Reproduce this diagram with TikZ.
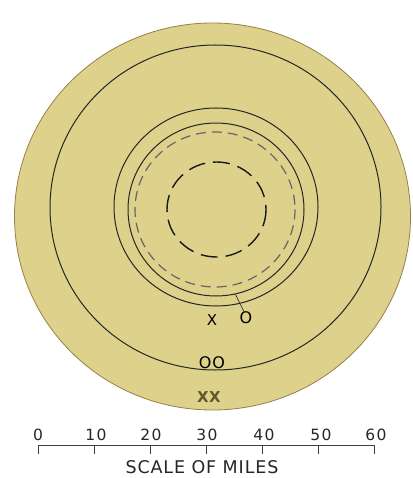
\documentclass[tikz,border=0pt]{standalone}
\usepackage{fontspec}
\setmainfont{DejaVu Sans}
\definecolor{disc}{RGB}{222,209,140}
\definecolor{discedge}{RGB}{150,128,70}
\definecolor{olive}{RGB}{95,90,40}
\begin{document}
\begin{tikzpicture}[x=1pt,y=-1pt,
  ring/.style={draw=black!85, line width=1.0pt},
  dashring/.style={draw=black!60, line width=1.2pt, dash pattern=on 10pt off 6pt},
  innerdash/.style={draw=black!90, line width=1.4pt, dash pattern=on 17pt off 8pt},
  lbl/.style={font=\fontsize{16}{16}\selectfont, inner sep=0pt},
  num/.style={font=\fontsize{15.5}{15.5}\selectfont, inner sep=0pt, text=black!85},
  tick/.style={line width=0.8pt, draw=black!75}]
\useasboundingbox (0,0) rectangle (412,478);
% disc
\fill[disc] (212.5,216.5) ellipse [x radius=198, y radius=193.5];
\draw[discedge, line width=0.8pt] (212.5,216.5) ellipse [x radius=198, y radius=193.5];
% rings
\draw[ring] (215.5,207.5) ellipse [x radius=165.5, y radius=162.5];
\draw[ring] (216,207) ellipse [x radius=102, y radius=99];
\draw[ring] (216,209.5) ellipse [x radius=88, y radius=86.5];
\draw[dashring] (215,209.5) ellipse [x radius=80, y radius=77.5];
\draw[innerdash] (216.5,209.5) ellipse [x radius=49.5, y radius=47.5];
% labels
\node[lbl, font=\fontsize{15}{15}\selectfont] (x1) at (212,320) {X};
\node[lbl] (o1) at (246,318) {O};
\coordinate (lead) at (235.5,294.5);
\draw[line width=0.7pt, black!80] (lead) -- ([xshift=-2pt]o1.north);
\node[lbl] (oo) at (212,363) {O\kern1ptO};
\node[lbl, text=olive, font=\fontsize{15}{15}\selectfont\bfseries] (xx) at (209,397) {X\kern0.5ptX};
% scale
\coordinate (s0) at (38,445);
\coordinate (s6) at (374,445);
\draw[tick] (s0) -- (s6);
\foreach \i in {0,...,6} {
  \coordinate (t\i) at ({38+56*\i},445);
  \draw[tick] (t\i) -- ++(0,9);
}
\node[num] (n0) at (38,435) {0};
\node[num] (n1) at (96,435) {1\kern1.5pt0};
\node[num] (n2) at (151,435) {2\kern1.5pt0};
\node[num] (n3) at (207,435) {3\kern1.5pt0};
\node[num] (n4) at (264,435) {4\kern1.5pt0};
\node[num] (n5) at (321,435) {5\kern1.5pt0};
\node[num] (n6) at (376,435) {6\kern1.5pt0};
\node[lbl, font=\fontsize{17.5}{17.5}\selectfont\addfontfeature{LetterSpace=5}, text=black!85] (title) at (202,467) {SCALE OF MILES};
\end{tikzpicture}
\end{document}
